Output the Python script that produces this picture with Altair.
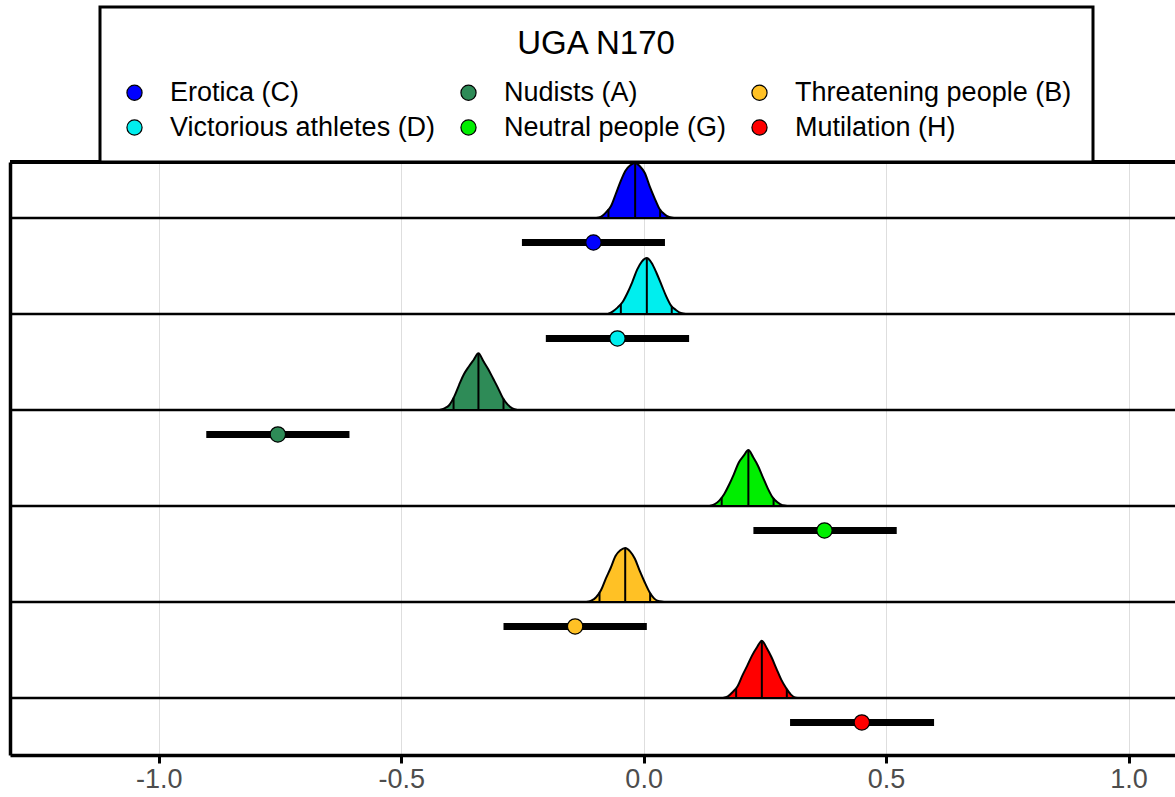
import altair as alt
import pandas as pd
import numpy as np

# ---------------- data ----------------
conditions = ["Erotica (C)", "Victorious athletes (D)", "Nudists (A)",
              "Neutral people (G)", "Threatening people (B)", "Mutilation (H)"]
colors = ["#0000FF", "#00EEEE", "#2E8B57", "#00EE00", "#FFC125", "#FF0000"]
row_index = [1, 2, 3, 4, 5, 6]

# posterior medians and 95% interval (quantile lines in the ridges)
post_median = [-0.0175, 0.0066, -0.3407, 0.216, -0.038, 0.2438]
post_lo = [-0.0726, -0.047, -0.392, 0.161, -0.091, 0.1908]
post_hi = [0.034, 0.058, -0.289, 0.268, 0.0134, 0.2953]

# observed estimate with interval (point + bar)
obs_est = [-0.1035, -0.054, -0.7544, 0.373, -0.1413, 0.45]
obs_lo = [-0.251, -0.2017, -0.902, 0.2264, -0.289, 0.302]
obs_hi = [0.044, 0.0938, -0.6067, 0.522, 0.0066, 0.599]

# ridge shapes: height (in ridge units) at offsets from the median
offsets = [-0.08, -0.07, -0.06, -0.05, -0.04, -0.03, -0.02, -0.01, 0.0,
           0.01, 0.02, 0.03, 0.04, 0.05, 0.06, 0.07, 0.08]
dens_erotica = [0, .014, .059, .122, .25, .382, .493, .549, .573, .538, .469, .33, .208, .097, .042, .01, 0]
dens_victorious = [0, .028, .069, .125, .219, .333, .462, .549, .583, .531, .427, .306, .184, .087, .042, .01, 0]
dens_nudists = [0, .017, .052, .139, .26, .372, .451, .521, .59, .51, .427, .33, .233, .128, .059, .017, 0]
dens_neutral = [0, .017, .056, .122, .219, .33, .451, .521, .583, .507, .417, .299, .184, .09, .038, .007, 0]
dens_threat = [0, .014, .049, .122, .243, .354, .479, .538, .563, .528, .451, .323, .208, .104, .035, .007, 0]
dens_mutil = [0, .017, .063, .122, .236, .337, .444, .528, .597, .521, .424, .306, .191, .104, .035, .003, 0]
densities = [dens_erotica, dens_victorious, dens_nudists, dens_neutral, dens_threat, dens_mutil]

tick_values = [-1.0, -0.5, 0.0, 0.5, 1.0]

# ---------------- tables ----------------
dens_rows, q_rows = [], []
for c, r, m, lo, hi, d in zip(conditions, row_index, post_median, post_lo, post_hi, densities):
    for o, h in zip(offsets, d):
        dens_rows.append({"cond": c, "r": r, "x": m + o, "top": r - h})
    for xq in (lo, m, hi):
        hq = float(np.interp(xq - m, offsets, d))
        q_rows.append({"cond": c, "r": r, "x": xq, "top": r - hq})
dens_df = pd.DataFrame(dens_rows)
q_df = pd.DataFrame(q_rows)

NUDGE = 0.255
pt_df = pd.DataFrame({"cond": conditions, "r": row_index, "est": obs_est,
                      "lo": obs_lo, "hi": obs_hi})
pt_df["yp"] = pt_df["r"] + NUDGE
base_df = pd.DataFrame({"r": row_index})

# ---------------- scales / axes ----------------
W, H = 1165, 593
xscale = alt.Scale(domain=[-1.3068, 1.0959], nice=False, zero=False)
yscale = alt.Scale(domain=[0.4167, 6.594], reverse=True, nice=False, zero=False)
fill_scale = alt.Scale(domain=conditions, range=colors)

xaxis = alt.Axis(values=tick_values, grid=True, gridColor="#DEDEDE", gridWidth=1,
                 domainColor="black", domainWidth=3.5, tickColor="black",
                 tickWidth=3, tickSize=8, labelFontSize=27, labelColor="#4D4D4D",
                 labelPadding=3, title=None,
                 labelExpr="datum.value < 0 ? '-' + format(-datum.value, '.1f') : format(datum.value, '.1f')")
yaxis = alt.Axis(domain=True, domainColor="black", domainWidth=3.5, ticks=False,
                 labels=False, grid=False, title=None)

legend = alt.Legend(title="UGA N170", orient="none", legendX=90, legendY=-155,
                    columns=3, symbolType="circle", symbolSize=230,
                    symbolStrokeColor="black", symbolStrokeWidth=1.2, symbolOpacity=1,
                    labelFontSize=27, titleFontSize=33, titleFontWeight="normal",
                    titleAnchor="middle", titleColor="black", labelColor="black",
                    padding=21, rowPadding=7, columnPadding=19, labelOffset=22,
                    titlePadding=18, labelLimit=500, strokeColor="black",
                    fillColor="white", gridAlign="each")

# ---------------- layers ----------------
top_border = alt.Chart(base_df).mark_rule(color="black", strokeWidth=3.5).encode(
    x=alt.value(0), x2=alt.value(W), y=alt.value(0))

baselines = alt.Chart(base_df).mark_rule(color="black", strokeWidth=2.5).encode(
    y=alt.Y("r:Q", scale=yscale, axis=yaxis))

areas = alt.Chart(dens_df).mark_area(stroke="black", strokeWidth=2, opacity=1,
                                     orient="vertical", interpolate="monotone").encode(
    x=alt.X("x:Q", scale=xscale, axis=xaxis),
    y=alt.Y("r:Q", scale=yscale, axis=yaxis),
    y2="top:Q",
    fill=alt.Fill("cond:N", scale=fill_scale, legend=legend),
    detail="cond:N")

qlines = alt.Chart(q_df).mark_rule(color="black", strokeWidth=2).encode(
    x=alt.X("x:Q", scale=xscale),
    y=alt.Y("r:Q", scale=yscale),
    y2="top:Q")

bars = alt.Chart(pt_df).mark_rule(color="black", strokeWidth=7, strokeCap="butt").encode(
    x=alt.X("lo:Q", scale=xscale),
    x2="hi:Q",
    y=alt.Y("yp:Q", scale=yscale))

points = alt.Chart(pt_df).mark_point(filled=True, shape="circle", size=235,
                                     stroke="black", strokeWidth=1.2, opacity=1).encode(
    x=alt.X("est:Q", scale=xscale),
    y=alt.Y("yp:Q", scale=yscale),
    fill=alt.Fill("cond:N", scale=fill_scale, legend=legend))

chart = alt.layer(baselines, areas, qlines, bars, points, top_border).properties(
    width=W, height=H,
    autosize=alt.AutoSizeParams(type="none"),
    padding={"left": 10, "top": 162, "right": 0, "bottom": 42},
).configure(font="Liberation Sans").configure_view(stroke=None).configure_legend(
    strokeWidth=3)

chart.save("out.html", embed_options={"renderer": "svg", "actions": False})
